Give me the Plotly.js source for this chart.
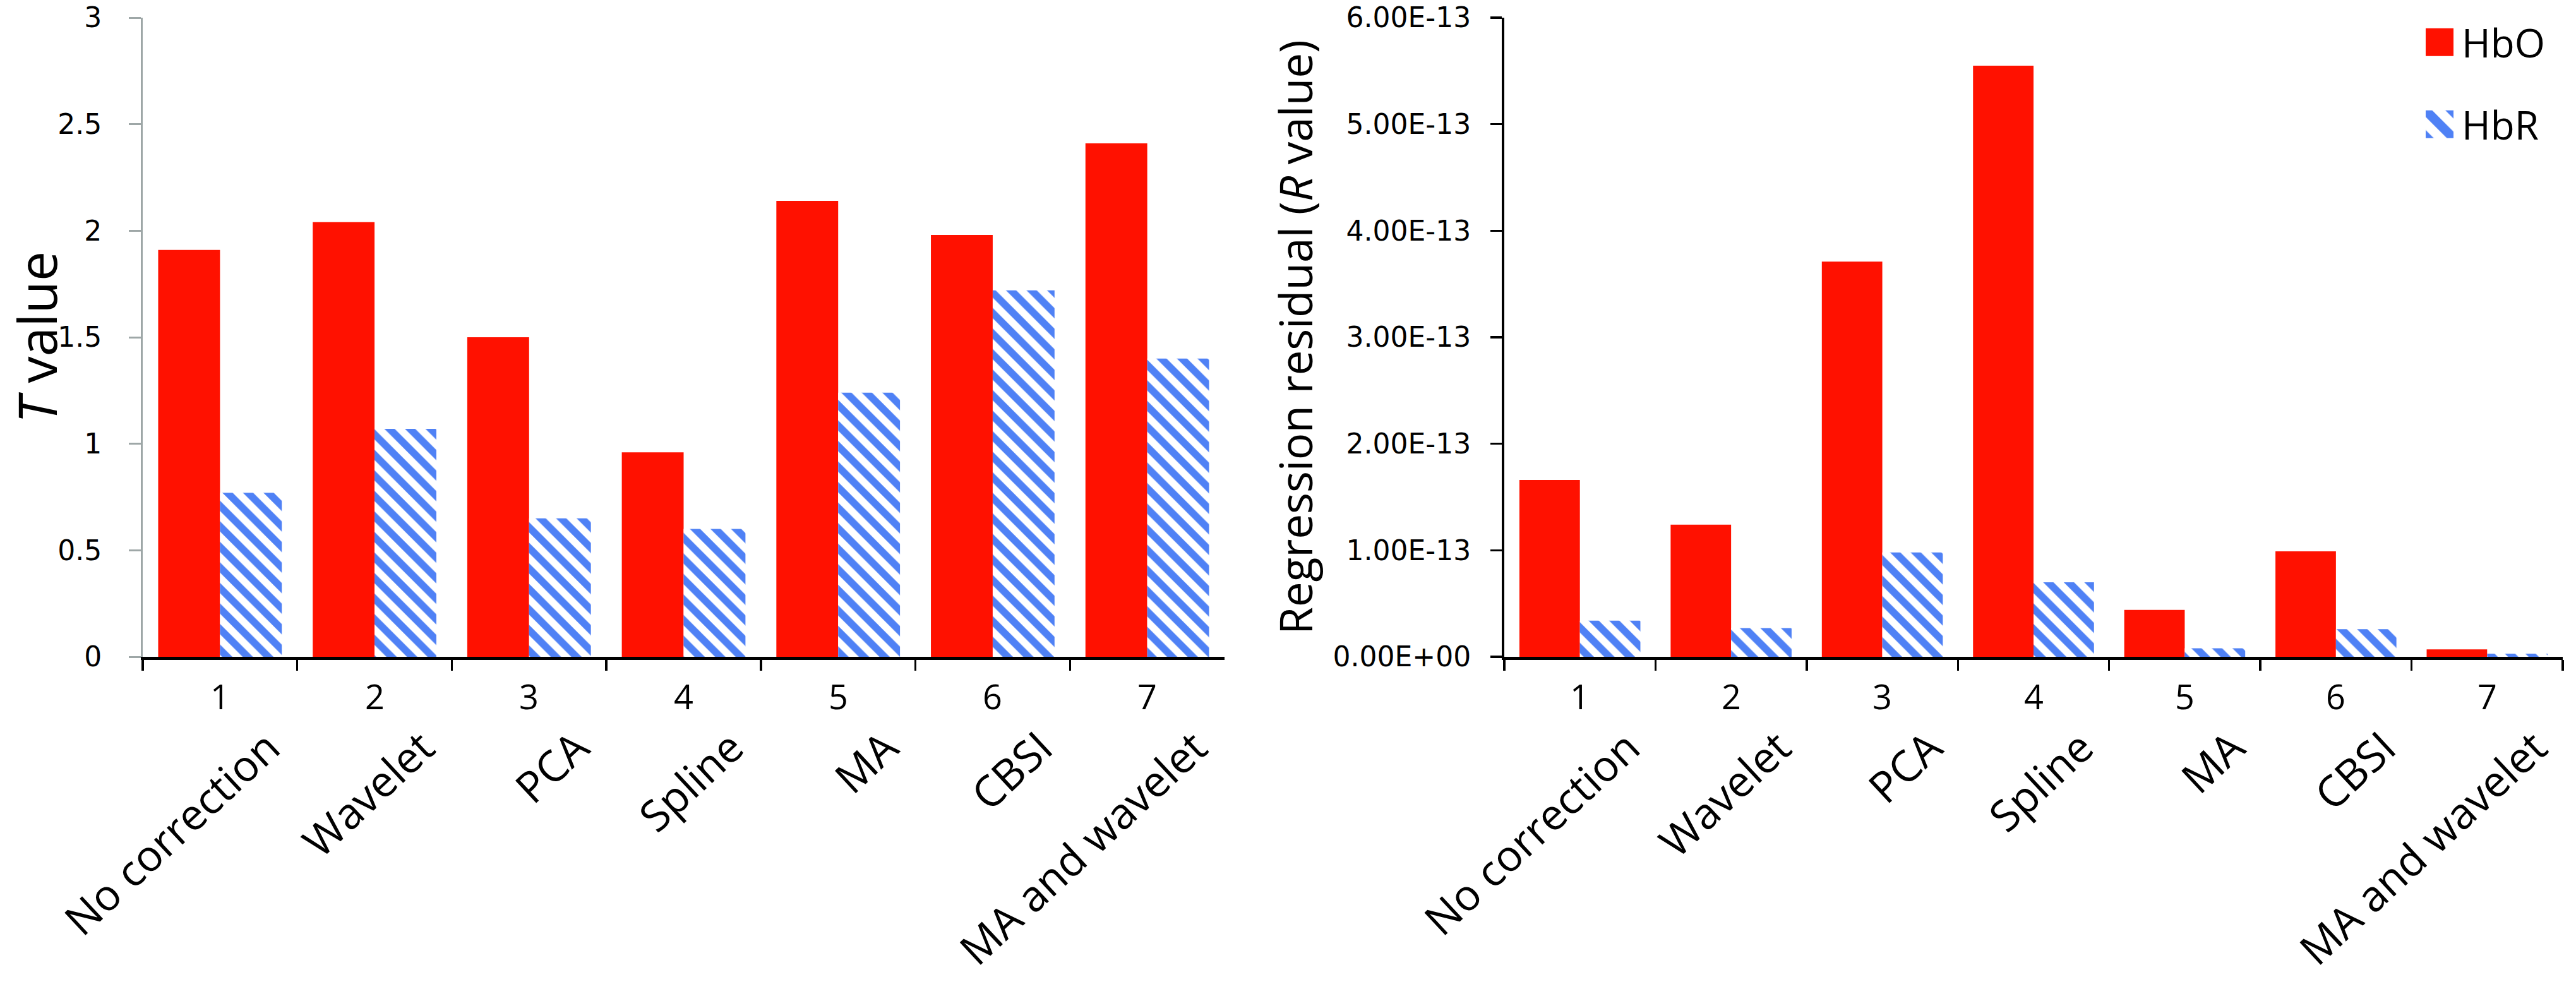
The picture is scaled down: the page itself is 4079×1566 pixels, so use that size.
<!DOCTYPE html>
<html>
<head>
<meta charset="utf-8">
<script src="https://cdn.plot.ly/plotly-3.0.1.min.js"></script>
<style>html,body{margin:0;padding:0;background:#fff;}#chart{width:4079px;height:1566px;}</style>
</head>
<body>
<div id="chart"></div>
<script>
// ---- data ----
var methods = ["No correction", "Wavelet", "PCA", "Spline", "MA", "CBSI", "MA and wavelet"];
var methodNumbers = ["1", "2", "3", "4", "5", "6", "7"];
var tHbO = [1.91, 2.04, 1.50, 0.96, 2.14, 1.98, 2.41];
var tHbR = [0.77, 1.07, 0.65, 0.60, 1.24, 1.72, 1.40];
var rHbO = [1.66e-13, 1.24e-13, 3.71e-13, 5.55e-13, 0.44e-13, 0.99e-13, 0.07e-13];
var rHbR = [0.34e-13, 0.27e-13, 0.98e-13, 0.70e-13, 0.08e-13, 0.26e-13, 0.03e-13];
var tTickVals = [0, 0.5, 1, 1.5, 2, 2.5, 3];
var tTickText = ["0", "0.5", "1", "1.5", "2", "2.5", "3"];
var rTickVals = [0, 1e-13, 2e-13, 3e-13, 4e-13, 5e-13, 6e-13];
var rTickText = ["0.00E+00", "1.00E-13", "2.00E-13", "3.00E-13", "4.00E-13", "5.00E-13", "6.00E-13"];
var seriesNames = ["HbO", "HbR"];

// ---- styles ----
var RED = "#FF1100";
var BLUE = "#4F81F5";
var W = 4079, H = 1566;
var txtFont = "Open Sans, sans-serif";
var numFont = "DejaVu Sans, sans-serif";

function px(x) { return x / W; }
function py(y) { return 1 - y / H; }

var hatch = {shape: "\\", size: 23, solidity: 0.5, fgcolor: BLUE, bgcolor: "#FFFFFF", fillmode: "replace"};

var traces = [
  {type: "bar", name: seriesNames[0], x: methods, y: tHbO, xaxis: "x", yaxis: "y",
   marker: {color: RED, line: {width: 0}}, showlegend: false, hoverinfo: "skip"},
  {type: "bar", name: seriesNames[1], x: methods, y: tHbR, xaxis: "x", yaxis: "y",
   marker: {color: BLUE, pattern: hatch, line: {width: 0}}, showlegend: false, hoverinfo: "skip"},
  {type: "bar", name: seriesNames[0], x: methods, y: rHbO, xaxis: "x2", yaxis: "y2",
   marker: {color: RED, line: {width: 0}}, legend: "legend", hoverinfo: "skip"},
  {type: "bar", name: seriesNames[1], x: methods, y: rHbR, xaxis: "x2", yaxis: "y2",
   marker: {color: BLUE, pattern: hatch, line: {width: 0}}, legend: "legend2", hoverinfo: "skip"}
];

function xAxis(domain, anchor) {
  return {
    domain: domain, anchor: anchor, type: "category",
    tickson: "boundaries", ticks: "outside", ticklen: 17, tickwidth: 3.5, tickcolor: "#000",
    showline: true, linewidth: 5, linecolor: "#000", showgrid: false, zeroline: false,
    tickangle: -43, tickfont: {family: txtFont, size: 68, color: "#000"},
    ticklabelstandoff: 72, ticklabelshift: 76, automargin: false, fixedrange: true
  };
}

var yDom = [py(1040), py(28)];

var annotations = [];
["x", "x2"].forEach(function (ax) {
  for (var i = 0; i < methods.length; i++) {
    annotations.push({xref: ax, yref: "paper", x: methods[i], y: py(1102), yanchor: "middle",
      text: methodNumbers[i], showarrow: false, font: {family: txtFont, size: 54, color: "#000"}});
  }
});

var layout = {
  width: W, height: H,
  margin: {l: 0, r: 0, t: 0, b: 0},
  paper_bgcolor: "#FFFFFF", plot_bgcolor: "#FFFFFF",
  barmode: "group", bargap: 0.2, bargroupgap: 0,
  xaxis: xAxis([px(226), px(1939)], "y"),
  xaxis2: xAxis([px(2382), px(4058)], "y2"),
  yaxis: {
    domain: yDom, anchor: "x", range: [0, 3], tickvals: tTickVals, ticktext: tTickText,
    ticks: "outside", ticklen: 19, tickwidth: 3, tickcolor: "#9EA7A7",
    showline: true, linewidth: 3, linecolor: "#9EA7A7", showgrid: false, zeroline: false,
    tickfont: {family: numFont, size: 44, color: "#000"}, ticklabelstandoff: 34,
    title: {text: "<i>T</i> value", font: {family: txtFont, size: 84, color: "#000"}, standoff: 12},
    automargin: false, fixedrange: true
  },
  yaxis2: {
    domain: yDom, anchor: "x2", range: [0, 6e-13], tickvals: rTickVals, ticktext: rTickText,
    ticks: "outside", ticklen: 18, tickwidth: 3.5, tickcolor: "#000",
    showline: true, linewidth: 4, linecolor: "#000", showgrid: false, zeroline: false,
    tickfont: {family: numFont, size: 44, color: "#000"}, ticklabelstandoff: 22,
    title: {text: "Regression residual (<i>R</i> value)", font: {family: txtFont, size: 71, color: "#000"}, standoff: 10},
    automargin: false, fixedrange: true
  },
  legend: {x: px(3828), xanchor: "left", y: py(20), yanchor: "top", bgcolor: "rgba(0,0,0,0)",
    font: {family: txtFont, size: 62, color: "#000"}, itemwidth: 60, borderwidth: 0},
  legend2: {x: px(3828), xanchor: "left", y: py(150), yanchor: "top", bgcolor: "rgba(0,0,0,0)",
    font: {family: txtFont, size: 62, color: "#000"}, itemwidth: 60, borderwidth: 0},
  annotations: annotations,
  showlegend: true
};

Plotly.newPlot("chart", traces, layout, {staticPlot: true, displayModeBar: false}).then(function (gd) {
  // enlarge legend swatches to match the reference's big square keys
  var pts = gd.querySelectorAll(".legend .legendpoints path, .legend2 .legendpoints path, g.legend path.legendbar, g.legend2 path.legendbar");
  var seen = [];
  pts.forEach(function (p) {
    if (seen.indexOf(p) >= 0) return;
    seen.push(p);
    var t = p.getAttribute("transform") || "";
    p.setAttribute("transform", t + " scale(3.67)");
  });
});
</script>
</body>
</html>
